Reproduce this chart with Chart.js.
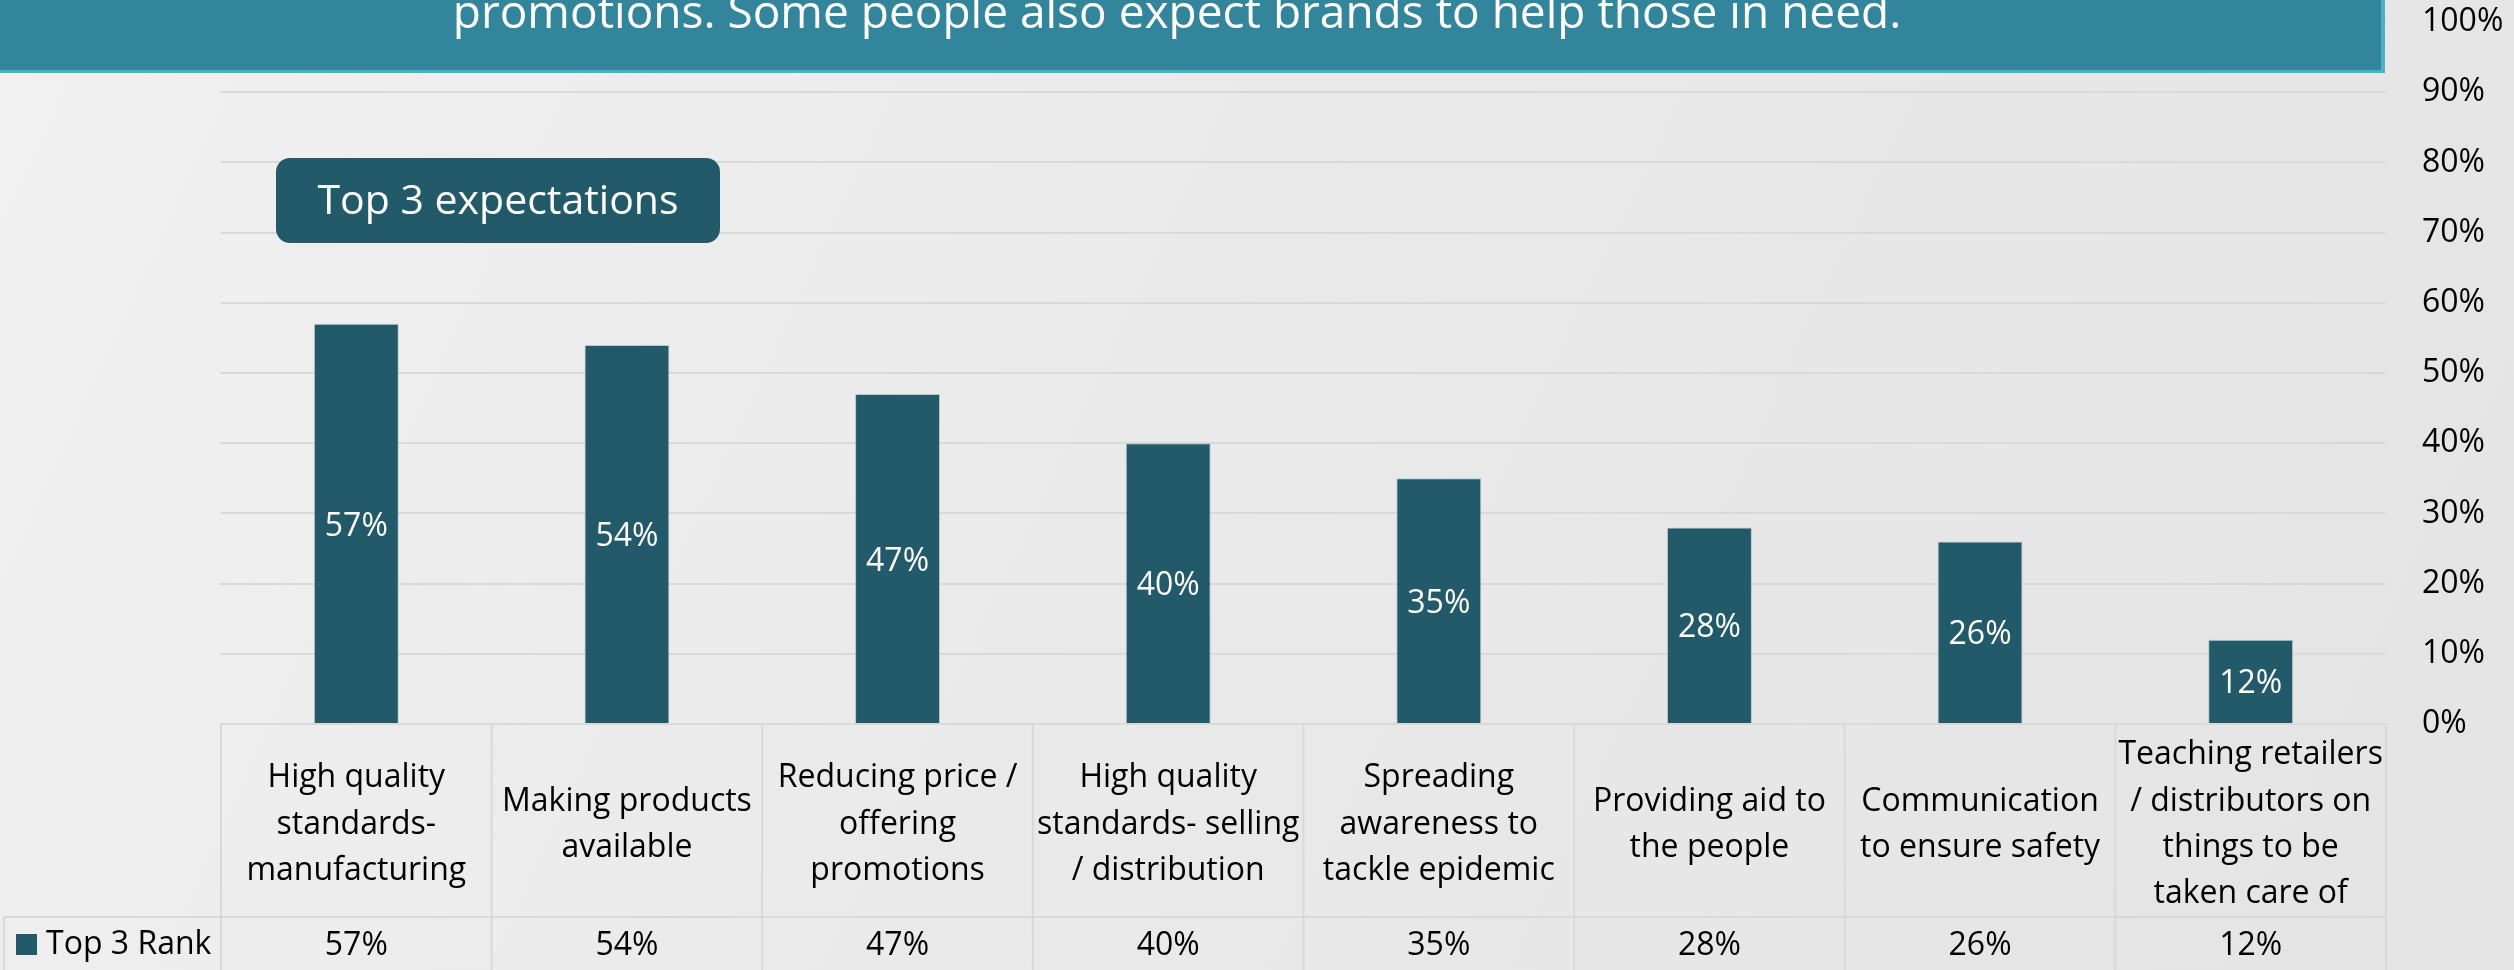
<!DOCTYPE html>
<html>
<head>
<meta charset="utf-8">
<title>Top 3 expectations</title>
<script src="https://cdn.jsdelivr.net/npm/chart.js@4/dist/chart.umd.min.js"></script>
<style>
  html, body { margin: 0; padding: 0; overflow: hidden; }
  body {
    width: 2514px; height: 970px;
    background: linear-gradient(115deg, #f1f1f1 0%, #eaeaea 45%, #e4e4e4 100%);
  }
</style>
</head>
<body>
<canvas id="myChart" width="2514" height="970"></canvas>
<script>
// category labels, already broken into lines as in the data table
var categories = [
  ['High quality', 'standards-', 'manufacturing'],
  ['Making products', 'available'],
  ['Reducing price /', 'offering', 'promotions'],
  ['High quality', 'standards- selling', '/ distribution'],
  ['Spreading', 'awareness to', 'tackle epidemic'],
  ['Providing aid to', 'the people'],
  ['Communication', 'to ensure safety'],
  ['Teaching retailers', '/ distributors on', 'things to be', 'taken care of']
];
var seriesName = 'Top 3 Rank';
var top3Rank = [57, 54, 47, 40, 35, 28, 26, 12];
var yTicks = [0, 10, 20, 30, 40, 50, 60, 70, 80, 90, 100];

var bannerText = 'promotions. Some people also expect brands to help those in need.';
var boxText = 'Top 3 expectations';

var barColor = '#225a69';
var lineColor = '#d9d9d9';
var FONT = '"Open Sans", "DejaVu Sans", sans-serif';

function roundBox(ctx, x, y, w, h, r) {
  ctx.beginPath();
  ctx.moveTo(x + r, y);
  ctx.lineTo(x + w - r, y);
  ctx.arcTo(x + w, y, x + w, y + r, r);
  ctx.lineTo(x + w, y + h - r);
  ctx.arcTo(x + w, y + h, x + w - r, y + h, r);
  ctx.lineTo(x + r, y + h);
  ctx.arcTo(x, y + h, x, y + h - r, r);
  ctx.lineTo(x, y + r);
  ctx.arcTo(x, y, x + r, y, r);
  ctx.closePath();
}

// data table under the bars, value labels, header banner and the tag box
var tablePlugin = {
  id: 'tablePlugin',
  afterDraw: function(chart) {
    var ctx = chart.ctx;
    var area = chart.chartArea;
    var xs = chart.scales.x;
    var n = categories.length;
    var step = (area.right - area.left) / n;
    var rowTop = area.bottom;
    var rowMid = area.bottom + 193;
    var rowBottom = chart.height;

    ctx.save();
    ctx.strokeStyle = lineColor;
    ctx.lineWidth = 2;
    ctx.beginPath();
    ctx.moveTo(area.left, rowTop);
    ctx.lineTo(area.right, rowTop);
    ctx.moveTo(4, rowMid);
    ctx.lineTo(area.right, rowMid);
    ctx.moveTo(4, rowMid);
    ctx.lineTo(4, rowBottom);
    for (var i = 0; i <= n; i++) {
      var lx = area.left + i * step;
      ctx.moveTo(lx, rowTop);
      ctx.lineTo(lx, rowBottom);
    }
    ctx.stroke();

    // values row
    ctx.font = '32px ' + FONT;
    ctx.fillStyle = '#000';
    ctx.textAlign = 'center';
    ctx.textBaseline = 'middle';
    for (var j = 0; j < n; j++) {
      ctx.fillText(top3Rank[j] + '%', xs.getPixelForValue(j), rowMid + 29);
    }

    // legend key in the first cell
    ctx.fillStyle = barColor;
    ctx.fillRect(16, rowMid + 17, 21, 21);
    ctx.fillStyle = '#000';
    ctx.textAlign = 'left';
    ctx.fillText(seriesName, 46, rowMid + 28);

    // labels inside the bars
    var meta = chart.getDatasetMeta(0);
    ctx.fillStyle = '#fff';
    ctx.textAlign = 'center';
    meta.data.forEach(function(bar, k) {
      ctx.fillText(top3Rank[k] + '%', bar.x, (bar.y + bar.base) / 2 + 3);
    });

    // header banner
    ctx.fillStyle = '#4bafc8';
    ctx.fillRect(0, 0, 2385, 73);
    ctx.fillStyle = '#32859b';
    ctx.fillRect(0, 0, 2381, 70);
    ctx.fillStyle = '#fff';
    ctx.font = '46px ' + FONT;
    ctx.textBaseline = 'alphabetic';
    ctx.fillText(bannerText, 1177, 28);

    // tag box
    roundBox(ctx, 276, 158, 444, 85, 14);
    ctx.fillStyle = barColor;
    ctx.fill();
    ctx.fillStyle = '#fff';
    ctx.font = '41px ' + FONT;
    ctx.textBaseline = 'middle';
    ctx.fillText(boxText, 498, 202);
    ctx.restore();
  }
};

var ctx = document.getElementById('myChart');
var myChart = new Chart(ctx, {
  type: 'bar',
  data: {
    labels: categories,
    datasets: [{
      label: seriesName,
      data: top3Rank,
      backgroundColor: barColor,
      borderColor: 'rgba(150,180,188,0.6)',
      borderWidth: 1,
      categoryPercentage: 1,
      barPercentage: 0.314
    }]
  },
  options: {
    responsive: false,
    animation: false,
    devicePixelRatio: 1,
    layout: { padding: { left: 221, top: 22, right: 0, bottom: 0 } },
    plugins: {
      legend: { display: false },
      tooltip: { enabled: false }
    },
    scales: {
      x: {
        grid: { display: false, drawTicks: false },
        border: { display: false },
        ticks: {
          autoSkip: false,
          maxRotation: 0,
          minRotation: 0,
          padding: 31,
          crossAlign: 'center',
          color: '#000',
          font: { family: FONT, size: 32, lineHeight: 1.45 }
        },
        afterFit: function(scale) {
          scale.height = 246;
          scale.paddingLeft = 0;
          scale.paddingRight = 0;
        }
      },
      y: {
        position: 'right',
        min: 0,
        max: 100,
        grid: { color: lineColor, lineWidth: 2, drawTicks: false },
        border: { display: false },
        ticks: {
          padding: 36,
          color: '#000',
          font: { family: FONT, size: 32 },
          callback: function(v) { return v + '%'; }
        },
        afterBuildTicks: function(scale) {
          scale.ticks = yTicks.map(function(v) { return { value: v }; });
        },
        afterFit: function(scale) {
          scale.width = 128;
          scale.paddingTop = 0;
          scale.paddingBottom = 0;
        }
      }
    }
  },
  plugins: [tablePlugin]
});
</script>
</body>
</html>
